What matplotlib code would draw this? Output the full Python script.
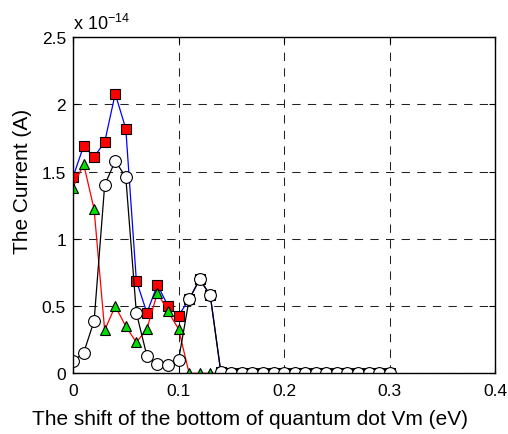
import numpy as np
import matplotlib
matplotlib.use('Agg')
import matplotlib.pyplot as plt

plt.rcParams['font.family'] = ['Liberation Sans', 'DejaVu Sans']

# shift of the quantum dot bottom (eV)
vm = np.round(np.arange(0, 0.301, 0.01), 2)

# currents in units of 1e-14 A
i_square = [1.46, 1.69, 1.61, 1.72, 2.08, 1.82, 0.69, 0.45, 0.66, 0.50,
            0.43, 0.55, 0.70, 0.58, 0.01] + [0.0] * 16
i_triangle = [1.38, 1.56, 1.22, 0.32, 0.50, 0.35, 0.23, 0.33, 0.60, 0.46,
              0.33, 0.0, 0.0, 0.0, 0.0] + [0.0] * 16
i_circle = [0.09, 0.15, 0.39, 1.40, 1.58, 1.46, 0.45, 0.13, 0.07, 0.06,
            0.10, 0.55, 0.70, 0.58, 0.01] + [0.0] * 16

fig = plt.figure(figsize=(5.08, 4.35), dpi=100)
ax = fig.add_axes([0.1437, 0.1395, 0.8313, 0.7725])

ax.plot(vm, i_square, '-s', color='blue', lw=0.9, ms=7.5,
        mfc='red', mec='black', mew=0.8)
ax.plot(vm, i_triangle, '-^', color='red', lw=0.9, ms=7.5,
        mfc='#00dd00', mec='black', mew=0.8)
ax.plot(vm, i_circle, '-o', color='black', lw=0.9, ms=8.5,
        mfc='white', mec='black', mew=0.8)

ax.set_xlim(0, 0.4)
ax.set_ylim(0, 2.5)
ax.set_xticks([0, 0.1, 0.2, 0.3, 0.4])
ax.set_xticklabels(['0', '0.1', '0.2', '0.3', '0.4'])
ax.set_yticks([0, 0.5, 1, 1.5, 2, 2.5])
ax.set_yticklabels(['0', '0.5', '1', '1.5', '2', '2.5'])
ax.grid(True, color='#222222', linestyle=(0, (8, 7)), lw=0.75)
ax.tick_params(direction='in', top=True, right=True, labelsize=12.5, length=4)
ax.tick_params(axis='x', pad=7)
ax.tick_params(axis='y', pad=5)
for s in ax.spines.values():
    s.set_linewidth(1.0)

ax.set_xlabel('The shift of the bottom of quantum dot Vm (eV)', fontsize=15)
ax.set_ylabel('The Current (A)', fontsize=15)
# labels sit off-centre in the original
ax.xaxis.set_label_coords(0.419, -0.105)
ax.yaxis.set_label_coords(-0.097, 0.574)
ax.text(0.0, 1.012, r'x 10$^{\mathregular{-14}}$', transform=ax.transAxes,
        fontsize=13, ha='left', va='bottom')

plt.savefig('out.png', dpi=100)
